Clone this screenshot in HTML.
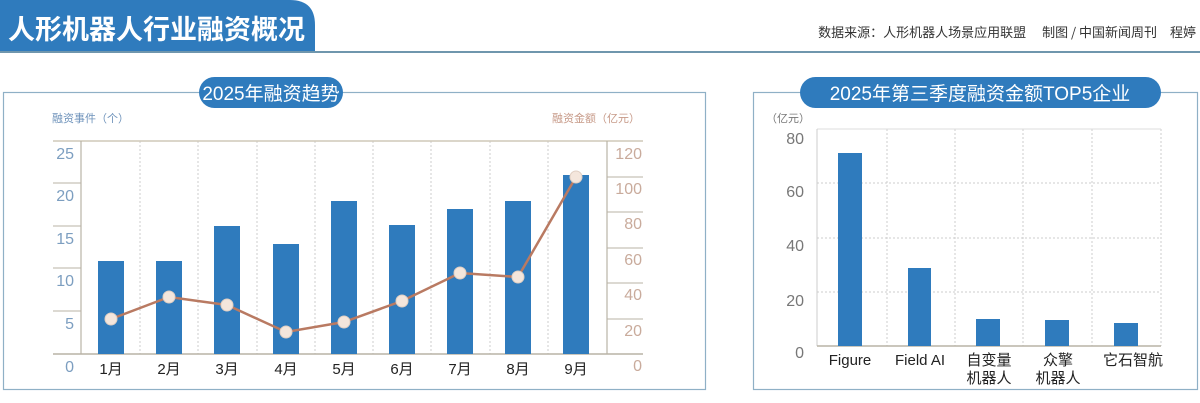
<!DOCTYPE html>
<html><head><meta charset="utf-8"><style>
html,body{margin:0;padding:0;background:#fff;}
svg{display:block;font-family:"Liberation Sans","Noto Sans CJK SC",sans-serif;}
</style></head><body>
<svg width="1200" height="403" viewBox="0 0 1200 403" xmlns="http://www.w3.org/2000/svg">
<rect width="1200" height="403" fill="#fff"/>
<!-- header -->
<path d="M0 0 H290 Q315 0 315 25 V52 H0 Z" fill="#2f7bbd"/>
<rect x="0" y="51" width="1200" height="2" fill="#6f96ad"/>
<text x="8" y="39" font-size="27" font-weight="bold" fill="#fff" font-family="'Noto Sans CJK SC',sans-serif">人形机器人行业融资概况</text>
<text x="1196" y="37" font-size="13" fill="#333" text-anchor="end" font-family="'Noto Sans CJK SC',sans-serif">数据来源：人形机器人场景应用联盟　 制图 / 中国新闻周刊　程婷</text>

<!-- left chart box -->
<rect x="3.5" y="92.5" width="702" height="297" fill="none" stroke="#8fb0c6" stroke-width="1.2"/>
<rect x="199" y="77" width="144" height="31" rx="15.5" fill="#2f7bbd"/>
<text x="271" y="100" font-size="19" fill="#fff" text-anchor="middle" font-family="'Liberation Sans','Noto Sans CJK SC',sans-serif">2025年融资趋势</text>
<text x="52" y="122" font-size="11" fill="#6f93bb" font-family="'Noto Sans CJK SC',sans-serif">融资事件（个）</text>
<text x="640" y="122" font-size="11" fill="#c79a88" text-anchor="end" font-family="'Noto Sans CJK SC',sans-serif">融资金额（亿元）</text>
<g stroke="#ccc" stroke-dasharray="2,2" stroke-width="1">
<line x1="140" y1="141" x2="140" y2="354"/><line x1="198" y1="141" x2="198" y2="354"/>
<line x1="257" y1="141" x2="257" y2="354"/><line x1="315" y1="141" x2="315" y2="354"/>
<line x1="373" y1="141" x2="373" y2="354"/><line x1="431" y1="141" x2="431" y2="354"/>
<line x1="490" y1="141" x2="490" y2="354"/><line x1="548" y1="141" x2="548" y2="354"/>
</g>
<line x1="53" y1="141" x2="643" y2="141" stroke="#cfc8b8" stroke-width="1.5"/>
<line x1="53" y1="354" x2="643" y2="354" stroke="#b9b3a6" stroke-width="1.5"/>
<line x1="81" y1="141" x2="81" y2="354" stroke="#b9b3a6" stroke-width="1.2"/>
<line x1="607" y1="141" x2="607" y2="354" stroke="#b9b3a6" stroke-width="1.2"/>
<g stroke="#b9b3a6" stroke-width="1">
<line x1="53" y1="183" x2="81" y2="183"/><line x1="53" y1="226" x2="81" y2="226"/>
<line x1="53" y1="268" x2="81" y2="268"/><line x1="53" y1="311" x2="81" y2="311"/>
<line x1="607" y1="177" x2="643" y2="177"/><line x1="607" y1="212" x2="643" y2="212"/>
<line x1="607" y1="248" x2="643" y2="248"/><line x1="607" y1="283" x2="643" y2="283"/>
<line x1="607" y1="319" x2="643" y2="319"/>
</g>
<g font-size="16" fill="#7c9ec0" text-anchor="end">
<text x="74" y="159">25</text><text x="74" y="201">20</text><text x="74" y="244">15</text>
<text x="74" y="286">10</text><text x="74" y="329">5</text><text x="74" y="372">0</text>
</g>
<g font-size="16" fill="#c9ab9c" text-anchor="end">
<text x="642" y="159">120</text><text x="642" y="194">100</text><text x="642" y="229">80</text>
<text x="642" y="265">60</text><text x="642" y="300">40</text><text x="642" y="336">20</text><text x="642" y="371">0</text>
</g>
<g fill="#2f7bbd">
<rect x="98" y="261" width="26" height="93"/>
<rect x="156" y="261" width="26" height="93"/>
<rect x="214" y="226" width="26" height="128"/>
<rect x="273" y="244" width="26" height="110"/>
<rect x="331" y="201" width="26" height="153"/>
<rect x="389" y="225" width="26" height="129"/>
<rect x="447" y="209" width="26" height="145"/>
<rect x="505" y="201" width="26" height="153"/>
<rect x="563" y="175" width="26" height="179"/>
</g>
<polyline points="111,319 169,297 227,305 286,332 344,322 402,301 460,273 518,277 576,177" fill="none" stroke="#b97a62" stroke-width="2.5"/>
<g fill="#f4e6dc" stroke="#e0cfc3" stroke-width="1">
<circle cx="111" cy="319" r="6"/><circle cx="169" cy="297" r="6"/><circle cx="227" cy="305" r="6"/>
<circle cx="286" cy="332" r="6"/><circle cx="344" cy="322" r="6"/><circle cx="402" cy="301" r="6"/>
<circle cx="460" cy="273" r="6"/><circle cx="518" cy="277" r="6"/><circle cx="576" cy="177" r="6"/>
</g>
<g font-size="15" fill="#222" text-anchor="middle" font-family="'Liberation Sans','Noto Sans CJK SC',sans-serif">
<text x="111" y="374">1月</text><text x="169" y="374">2月</text><text x="227" y="374">3月</text>
<text x="286" y="374">4月</text><text x="344" y="374">5月</text><text x="402" y="374">6月</text>
<text x="460" y="374">7月</text><text x="518" y="374">8月</text><text x="576" y="374">9月</text>
</g>

<!-- right chart -->
<rect x="753.5" y="92.5" width="444" height="297" fill="none" stroke="#8fb0c6" stroke-width="1.2"/>
<rect x="800" y="77" width="361" height="31" rx="15.5" fill="#2f7bbd"/>
<text x="980" y="100" font-size="19" fill="#fff" text-anchor="middle" font-family="'Liberation Sans','Noto Sans CJK SC',sans-serif">2025年第三季度融资金额TOP5企业</text>
<text x="766" y="122" font-size="11" fill="#777" font-family="'Noto Sans CJK SC',sans-serif">（亿元）</text>
<g stroke="#ccc" stroke-dasharray="2,2" stroke-width="1">
<line x1="887" y1="129" x2="887" y2="346"/><line x1="955" y1="129" x2="955" y2="346"/>
<line x1="1023" y1="129" x2="1023" y2="346"/><line x1="1092" y1="129" x2="1092" y2="346"/>
<line x1="1161" y1="129" x2="1161" y2="346"/>
<line x1="817" y1="183" x2="1161" y2="183"/><line x1="817" y1="238" x2="1161" y2="238"/>
<line x1="817" y1="292" x2="1161" y2="292"/>
</g>
<line x1="817" y1="129" x2="1161" y2="129" stroke="#ddd"/>
<line x1="817" y1="129" x2="817" y2="346" stroke="#ccc"/>
<line x1="817" y1="346" x2="1161" y2="346" stroke="#b9b3a6" stroke-width="1.5"/>
<g font-size="16" fill="#777" text-anchor="end">
<text x="804" y="144">80</text><text x="804" y="197">60</text><text x="804" y="251">40</text>
<text x="804" y="306">20</text><text x="804" y="358">0</text>
</g>
<g fill="#2f7bbd">
<rect x="838" y="153" width="24" height="193"/>
<rect x="908" y="268" width="23" height="78"/>
<rect x="976" y="319" width="24" height="27"/>
<rect x="1045" y="320" width="24" height="26"/>
<rect x="1114" y="323" width="24" height="23"/>
</g>
<g font-size="15" fill="#222" text-anchor="middle" font-family="'Liberation Sans','Noto Sans CJK SC',sans-serif">
<text x="850" y="365">Figure</text><text x="920" y="365">Field AI</text>
<text x="989" y="365">自变量</text><text x="989" y="383">机器人</text>
<text x="1058" y="365">众擎</text><text x="1058" y="383">机器人</text>
<text x="1133" y="365">它石智航</text>
</g>
</svg>
</body></html>
